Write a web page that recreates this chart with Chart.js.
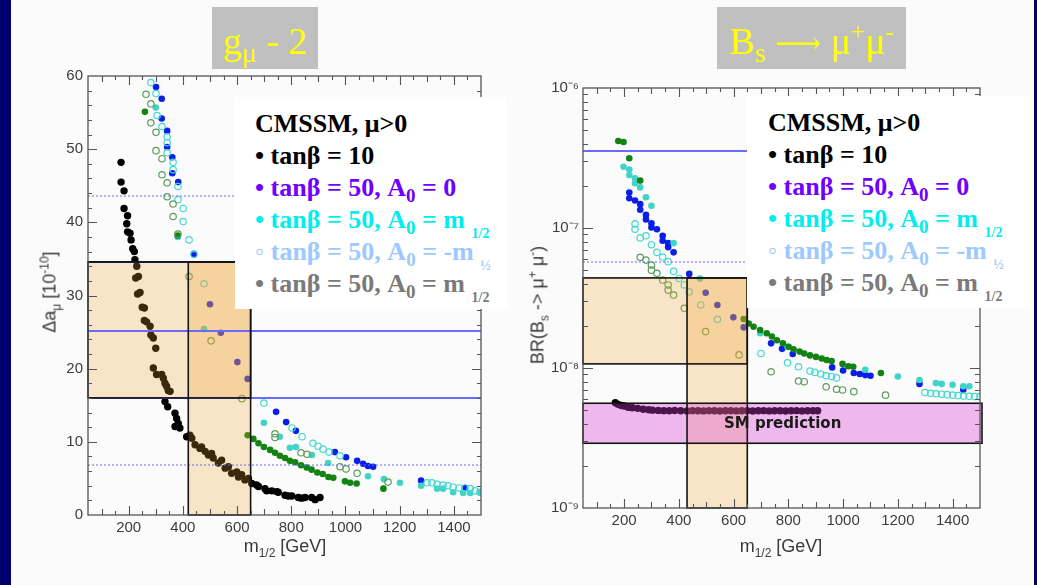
<!DOCTYPE html>
<html lang="en">
<head>
<meta charset="UTF-8">
<title>CMSSM: g-2 and Bs -> mu mu</title>
<script src="https://cdn.jsdelivr.net/npm/chart.js"></script>
<style>
  html { background: #fbfbfb; }
  body { margin: 0; width: 1037px; height: 585px; position: relative; overflow: hidden; background: #fbfbfb; font-family: "Liberation Sans", Arial, sans-serif; }
  .edge { position: absolute; top: 0; height: 585px; background: #00006c; }
  canvas { position: absolute; }
  .titlebox { position: absolute; top: 7px; height: 62px; background: #c0c0c0; color: #ffff00; font-family: "Liberation Serif", "Times New Roman", serif; font-size: 38px; line-height: 38px; text-align: center; white-space: nowrap; }
  .titlebox div { position: absolute; left: 0; right: 0; top: 15px; }
  .titlebox sub { font-size: 28px; line-height: 0; vertical-align: -8px; }
  .titlebox sup { font-size: 25px; line-height: 0; vertical-align: 14px; }
  .titlebox .arrow { font-family: "DejaVu Serif", serif; font-size: 32px; }
  .legend { position: absolute; height: 212px; background: #fff; box-sizing: border-box; padding: 11px 0 0 20px; font: bold 26px/32px "Liberation Serif", "Times New Roman", serif; white-space: nowrap; }
  .legend sub { font-size: 19px; line-height: 0; vertical-align: -6px; }
  .legend sub.h { font-size: 14px; vertical-align: -10px; }
  .xt { position: absolute; top: 536px; font-size: 18px; color: #3a3a3a; transform: translateX(-50%); white-space: nowrap; }
  .yt { position: absolute; font-size: 18px; color: #3a3a3a; transform: translate(-50%, -50%) rotate(-90deg); white-space: nowrap; }
  .xt sub, .yt sub { font-size: 12px; line-height: 0; }
  .yt sup { font-size: 12px; line-height: 0; }
  .sm { position: absolute; left: 724px; top: 414px; font: bold 15px/18px "DejaVu Sans", sans-serif; color: #1a1a1a; }
</style>
</head>
<body>
<div class="edge" style="left:0;width:11px"></div>
<div class="edge" style="left:1034px;width:3px"></div>

<canvas id="g2Chart" width="498" height="510" style="left:12px;top:60px"></canvas>
<canvas id="bsChart" width="517" height="510" style="left:515px;top:60px"></canvas>

<div class="titlebox" style="left:212px;width:106px"><div>g<sub>μ</sub> - 2</div></div>
<div class="titlebox" style="left:717px;width:189px"><div>B<sub>s</sub> <span class="arrow">⟶</span> μ<sup>+</sup>μ<sup>-</sup></div></div>

<div class="xt" style="left:285px">m<sub>1/2</sub> [GeV]</div>
<div class="xt" style="left:781px">m<sub>1/2</sub> [GeV]</div>
<div class="yt" style="left:50px;top:292px">Δa<sub>μ</sub> [10<sup>-10</sup>]</div>
<div class="yt" style="left:538px;top:305px">BR(B<sub>s</sub> -&gt; μ<sup>+</sup> μ<sup>-</sup>)</div>
<div class="sm">SM prediction</div>

<div class="legend" style="left:235px;top:97px;width:272px">
  <div style="color:#000">CMSSM, μ&gt;0</div>
  <div style="color:#000">• tanβ = 10</div>
  <div style="color:#7000ff">• tanβ = 50, A<sub>0</sub> = 0</div>
  <div style="color:#00eeee">• tanβ = 50, A<sub>0</sub> = m <sub class="h">1/2</sub></div>
  <div style="color:#9cc9ff">◦ tanβ = 50, A<sub>0</sub> = -m <sub class="h">½</sub></div>
  <div style="color:#7a7a7a">• tanβ = 50, A<sub>0</sub> = m <sub class="h">1/2</sub></div>
</div>
<div class="legend" style="left:747px;top:96px;width:284px;padding-left:21px">
  <div style="color:#000">CMSSM, μ&gt;0</div>
  <div style="color:#000">• tanβ = 10</div>
  <div style="color:#7000ff">• tanβ = 50, A<sub>0</sub> = 0</div>
  <div style="color:#00eeee">• tanβ = 50, A<sub>0</sub> = m <sub class="h">1/2</sub></div>
  <div style="color:#9cc9ff">◦ tanβ = 50, A<sub>0</sub> = -m <sub class="h">½</sub></div>
  <div style="color:#7a7a7a">• tanβ = 50, A<sub>0</sub> = m <sub class="h">1/2</sub></div>
</div>

<script>
// ---- g_mu - 2 panel: [m_1/2 (GeV), delta a_mu (1e-10)] ----
const g2Tb10 = [[172,48.2],[172,45.5],[183,44.3],[183,41.9],[196,40.9],[193,39.8],[196,38.7],[205,38.5],[209,37.6],[215,36.4],
  [221,36.0],[223,34.9],[230,34.0],[226,32.4],[236,32.6],[233,30.2],[242,30.4],[250,28.4],[258,28.3],[258,26.6],[266,26.4],
  [279,25.8],[282,24.6],[291,24.2],[300,22.8],[291,20.1],[303,19.2],[322,19.2],[328,18.7],[334,18.0],[340,17.6],[346,17.0],
  [353,16.9],[334,15.5],[344,14.8],[371,13.9],[377,13.2],[383,12.5],[371,12.1],[389,11.9],[414,10.7],[426,10.9],[433,10.5],
  [445,9.6],[463,9.1],[469,9.3],[482,8.7],[494,8.2],[506,8.4],[512,7.8],[531,7.1],[543,7.5],[556,6.4],[568,6.6],[580,5.7],
  [599,5.9],[605,5.2],[617,5.5],[629,4.8],[642,5.0],[654,4.3],[672,4.1],[679,3.9],[703,3.6],[709,3.3],[728,3.3],[746,3.2],
  [752,3.1],[777,2.7],[789,2.6],[802,2.6],[826,2.4],[838,2.3],[851,2.4],[875,2.4],[888,2.1],[906,2.4]];
const g2Tb50A0 = [[301,58.5],[322,56.9],[322,54.2],[342,52.5],[342,50.3],[361,48.9],[361,46.7],[383,45.5],[441,35.7],[500,28.8],
  [540,24.9],[601,20.9],[639,18.6],[744,14.1],[781,12.7],[817,11.5],[961,8.6],[1002,7.9],[1043,7.4],[1065,7.0],[1083,6.7],
  [1102,6.6],[1279,4.7],[1441,3.7]];
const g2Tb50Ap = [[300,55.7],[381,38.0],[478,25.4],[699,12.6],[758,10.7],[795,9.2],[817,9.3],[876,8.2],[936,7.1],[1083,5.3],
  [1142,4.9],[1201,4.4],[1279,4.0],[1338,3.6],[1360,3.6],[1397,3.1],[1434,3.0],[1460,3.0],[1496,3.1]];
const g2Tb50Am = [[282,59.1],[301,57.6],[305,54.6],[323,53.1],[342,51.7],[342,50.9],[342,49.5],[364,48.2],[364,47.2],[382,44.9],
  [382,43.1],[401,41.9],[401,40.1],[423,37.6],[441,35.6],[478,31.6],[699,15.3],[803,11.9],[840,10.7],[880,9.8],[899,9.4],
  [917,9.0],[939,8.6],[980,8.1],[1301,4.4],[1319,4.4],[1338,4.2],[1360,4.1],[1378,4.0],[1397,3.8],[1419,3.7],[1441,3.7],
  [1460,3.6],[1478,3.3],[1496,3.1]];
const g2GreenFull = [[260,55.1],[381,38.2],[639,10.9],[660,10.4],[679,9.8],[699,9.3],[722,8.9],[740,8.5],[758,8.1],[777,7.8],
  [795,7.4],[814,7.2],[836,6.8],[857,6.5],[875,6.2],[896,5.8],[916,5.6],[937,5.2],[955,5.1],[998,4.6],[1017,4.4],[1041,4.3],
  [1140,3.6]];
const g2GreenOpen = [[264,57.5],[282,56.2],[282,53.6],[301,52.3],[301,49.8],[323,48.7],[323,46.5],[342,45.4],[342,43.5],[364,42.5],
  [364,40.8],[382,38.4],[423,32.6],[504,23.8],[618,15.9],[740,11.1],[740,10.6],[836,8.5],[858,8.3],[980,6.6],[1002,6.3],
  [1043,5.7],[1157,4.5]];
const g2XLabels = [200, 400, 600, 800, 1000, 1200, 1400];
const g2YLabels = [0, 10, 20, 30, 40, 50, 60];
const g2Measured = 25.2, g2Band = [16.0, 34.6], g2Outer = [6.8, 43.6];
const g2MassBand = [420, 650];

// ---- Bs -> mu mu panel: [m_1/2 (GeV), BR] ----
const bsTb10 = [[168,5.65e-9],[178,5.5e-9],[190,5.4e-9],[201,5.35e-9],[215,5.25e-9],[230,5.2e-9],[250,5.15e-9],[270,5.08e-9],
  [290,5.03e-9],[304,5.0e-9],[325,4.98e-9],[345,4.96e-9],[365,4.95e-9],[385,4.97e-9],[407,4.95e-9],[430,4.93e-9],[450,4.96e-9],
  [470,4.95e-9],[490,4.94e-9],[510,4.96e-9],[530,4.95e-9],[550,4.93e-9],[570,4.95e-9],[590,4.96e-9],[610,4.94e-9],[630,4.95e-9],
  [650,4.95e-9],[670,4.93e-9],[690,4.95e-9],[710,4.96e-9],[730,4.94e-9],[750,4.95e-9],[770,4.95e-9],[790,4.93e-9],[810,4.95e-9],
  [830,4.96e-9],[850,4.94e-9],[870,4.95e-9],[890,4.95e-9],[907,4.95e-9]];
const bsTb50A0 = [[219,1.79e-7],[219,1.63e-7],[240,1.57e-7],[259,1.48e-7],[259,1.35e-7],[280,1.24e-7],[280,1.15e-7],[300,1.08e-7],
  [300,1.01e-7],[320,9.8e-8],[341,8.8e-8],[341,8.1e-8],[361,7.8e-8],[361,7.3e-8],[381,6.7e-8],[438,4.7e-8],[498,3.45e-8],
  [541,2.82e-8],[599,2.3e-8],[637,1.95e-8],[737,1.5e-8],[777,1.37e-8],[816,1.26e-8],[960,1.01e-8],[1000,9.6e-9],[1039,9.2e-9],
  [1061,9.06e-9],[1081,8.9e-9],[1100,8.8e-9],[1279,7.7e-9],[1439,7.0e-9]];
const bsTb50Ap = [[198,2.74e-7],[219,2.62e-7],[219,2.39e-7],[240,2.26e-7],[240,2.09e-7],[259,1.95e-7],[280,1.66e-7],[300,1.44e-7],
  [381,7.8e-8],[477,4.36e-8],[697,1.77e-8],[797,1.42e-8],[1081,9.7e-9],[1200,8.7e-9],[1279,8.2e-9],[1339,7.8e-9],[1360,7.7e-9],
  [1400,7.6e-9],[1439,7.4e-9],[1461,7.4e-9]];
const bsTb50Am = [[240,1.07e-7],[240,9.8e-8],[259,8.5e-8],[280,8.8e-8],[300,7.6e-8],[320,6.7e-8],[341,6.2e-8],[361,5.75e-8],
  [381,4.9e-8],[401,4.36e-8],[420,3.92e-8],[438,3.5e-8],[480,2.82e-8],[541,2.23e-8],[700,1.27e-8],[797,1.09e-8],[837,1.02e-8],
  [879,9.5e-9],[897,9.3e-9],[918,9.06e-9],[938,8.8e-9],[958,8.7e-9],[976,8.5e-9],[1299,6.67e-9],[1320,6.6e-9],[1340,6.55e-9],
  [1360,6.5e-9],[1380,6.45e-9],[1400,6.4e-9],[1420,6.35e-9],[1440,6.3e-9],[1460,6.28e-9],[1480,6.25e-9],[1500,6.24e-9]];
const bsGreenFull = [[179,4.18e-7],[198,4.11e-7],[219,3.15e-7],[259,2.18e-7],[637,2.24e-8],[655,2.08e-8],[673,1.97e-8],[697,1.87e-8],
  [721,1.77e-8],[740,1.68e-8],[758,1.58e-8],[780,1.5e-8],[801,1.42e-8],[819,1.36e-8],[841,1.31e-8],[858,1.27e-8],[879,1.23e-8],
  [901,1.2e-8],[922,1.17e-8],[940,1.14e-8],[958,1.12e-8],[998,1.07e-8],[1019,1.03e-8],[1037,1.02e-8],[1138,9.2e-9]];
const bsGreenOpen = [[259,6.18e-8],[280,5.9e-8],[300,5.44e-8],[300,5.0e-8],[320,4.75e-8],[341,4.25e-8],[361,3.92e-8],[361,3.6e-8],
  [381,3.32e-8],[420,2.67e-8],[498,1.82e-8],[620,1.24e-8],[737,9.4e-9],[837,8.07e-9],[858,7.98e-9],[938,7.34e-9],[976,7.05e-9],
  [998,6.97e-9],[1039,6.78e-9],[1155,6.4e-9]];
const bsXLabels = [200, 400, 600, 800, 1000, 1200, 1400];
const bsYLabels = [1e-9, 1e-8, 1e-7, 1e-6];
const bsLimit = 3.55e-7, bsDotted = 5.7e-8, bsBand = [1.07e-8, 4.4e-8], bsSM = [2.9e-9, 5.6e-9];
const bsMassBand = [430, 650];

// marker styles
const markers = {
  black:     { r: 3.7, fill: '#000000', line: '#000000', w: 0 },
  blue:      { r: 3.3, fill: '#0a1ee8', line: '#0a1ee8', w: 0 },
  cyan:      { r: 3.3, fill: '#3fd4c8', line: '#3fd4c8', w: 0 },
  cyanOpen:  { r: 3.2, fill: 'rgba(0,0,0,0)', line: '#45d8d2', w: 1.2 },
  green:     { r: 3.3, fill: '#128212', line: '#128212', w: 0 },
  greenOpen: { r: 3.2, fill: 'rgba(0,0,0,0)', line: '#5c9c5c', w: 1.2 }
};

function series(points, kind) {
  const m = markers[kind];
  return {
    data: points.map(p => ({ x: p[0], y: p[1] })),
    showLine: false,
    pointRadius: m.r,
    pointBackgroundColor: m.fill,
    pointBorderColor: m.line,
    pointBorderWidth: m.w
  };
}

const superDigits = { '-': '⁻', '0': '⁰', '1': '¹', '2': '²', '3': '³', '4': '⁴', '5': '⁵', '6': '⁶', '7': '⁷', '8': '⁸', '9': '⁹' };
const toSup = n => String(n).split('').map(c => superDigits[c]).join('');

// bands, reference lines and ROOT-style frame with inward ticks
const framePlugin = {
  id: 'frame',
  afterDatasetsDraw(chart, args, o) {
    const { ctx, chartArea: a } = chart;
    const sx = chart.scales.x, sy = chart.scales.y;
    const px = v => sx.getPixelForValue(v), py = v => sy.getPixelForValue(v);
    ctx.save();

    o.bands.forEach(b => {
      const l = px(b.x[0]), r = px(b.x[1]) + (b.extend || 0);
      const t = py(b.y[1]), btm = py(b.y[0]);
      ctx.fillStyle = b.fill;
      ctx.fillRect(l, t, r - l, btm - t);
    });

    o.lines.forEach(ln => {
      const yy = Math.round(py(ln.y));
      ctx.beginPath();
      ctx.strokeStyle = ln.color;
      ctx.lineWidth = ln.width;
      ctx.setLineDash(ln.dash || []);
      ctx.moveTo(a.left, yy);
      ctx.lineTo(a.right, yy);
      ctx.stroke();
    });
    ctx.setLineDash([]);

    ctx.strokeStyle = '#141414';
    ctx.lineWidth = 1.6;
    o.bands.forEach(b => {
      const l = px(b.x[0]), r = px(b.x[1]) + (b.extend || 0);
      const t = py(b.y[1]), btm = py(b.y[0]);
      ctx.strokeRect(l, t, r - l, btm - t);
    });

    ctx.strokeStyle = '#555';
    ctx.lineWidth = 1.3;
    ctx.strokeRect(a.left, a.top, a.width, a.height);
    ctx.beginPath();
    o.xTicks.forEach(t => {
      const X = Math.round(px(t.v)) + 0.5;
      ctx.moveTo(X, a.bottom); ctx.lineTo(X, a.bottom - t.len);
      ctx.moveTo(X, a.top); ctx.lineTo(X, a.top + t.len);
    });
    o.yTicks.forEach(t => {
      const Y = Math.round(py(t.v)) + 0.5;
      ctx.moveTo(a.left, Y); ctx.lineTo(a.left + t.len, Y);
      ctx.moveTo(a.right, Y); ctx.lineTo(a.right - t.len, Y);
    });
    ctx.lineWidth = 1.1;
    ctx.stroke();
    ctx.restore();
  }
};

const tickFont = { family: '"Liberation Sans", Arial, sans-serif', size: 15 };
const plainNumber = v => String(v);

// tick marks every 50 GeV on x
const massTicks = [];
for (let v = 100; v < 1500; v += 50) massTicks.push({ v: v, len: v % 200 === 0 ? 9 : (v % 100 === 0 ? 6 : 4) });

const g2Ticks = [];
for (let v = 2; v < 60; v += 2) g2Ticks.push({ v: v, len: v % 10 === 0 ? 9 : 4 });

const bsTicks = [];
for (let d = -9; d <= -7; d++) {
  for (let k = 1; k <= 9; k++) {
    if (d === -9 && k === 1) continue;
    bsTicks.push({ v: k * Math.pow(10, d), len: k === 1 ? 10 : 5 });
  }
}

const orange = 'rgba(240,160,40,0.25)';
const refBlue = '#6a6aff';

new Chart(document.getElementById('g2Chart'), {
  type: 'scatter',
  data: {
    datasets: [
      series(g2GreenOpen, 'greenOpen'),
      series(g2Tb50Am, 'cyanOpen'),
      series(g2GreenFull, 'green'),
      series(g2Tb50Ap, 'cyan'),
      series(g2Tb50A0, 'blue'),
      series(g2Tb10, 'black')
    ]
  },
  options: {
    responsive: false,
    animation: false,
    devicePixelRatio: 1,
    layout: { padding: { left: 0, right: 29, top: 16, bottom: 15 } },
    plugins: {
      legend: { display: false },
      tooltip: { enabled: false },
      frame: {
        bands: [
          { x: [50, g2MassBand[1]], y: g2Band, fill: orange },
          { x: g2MassBand, y: [0, g2Band[1]], fill: orange }
        ],
        lines: [
          { y: g2Outer[1], color: refBlue, width: 1, dash: [2, 2] },
          { y: g2Outer[0], color: refBlue, width: 1, dash: [2, 2] },
          { y: g2Measured, color: refBlue, width: 2 },
          { y: g2Band[0], color: refBlue, width: 2 },
          { y: g2Band[1], color: '#2020c0', width: 2 }
        ],
        xTicks: massTicks,
        yTicks: g2Ticks
      }
    },
    scales: {
      x: {
        type: 'linear', min: 50, max: 1500,
        grid: { display: false, drawTicks: false },
        border: { display: false },
        afterBuildTicks: s => { s.ticks = g2XLabels.map(v => ({ value: v })); },
        afterFit: s => { s.height = 40; },
        ticks: { padding: 4, color: '#3c3c3c', font: tickFont, maxRotation: 0, autoSkip: false, callback: plainNumber }
      },
      y: {
        type: 'linear', min: 0, max: 60,
        grid: { display: false, drawTicks: false },
        border: { display: false },
        afterBuildTicks: s => { s.ticks = g2YLabels.map(v => ({ value: v })); },
        afterFit: s => { s.width = 76; },
        ticks: { padding: 5, color: '#3c3c3c', font: tickFont, autoSkip: false, callback: plainNumber }
      }
    }
  },
  plugins: [framePlugin]
});

new Chart(document.getElementById('bsChart'), {
  type: 'scatter',
  data: {
    datasets: [
      series(bsGreenOpen, 'greenOpen'),
      series(bsTb50Am, 'cyanOpen'),
      series(bsGreenFull, 'green'),
      series(bsTb50Ap, 'cyan'),
      series(bsTb50A0, 'blue'),
      series(bsTb10, 'black')
    ]
  },
  options: {
    responsive: false,
    animation: false,
    devicePixelRatio: 1,
    layout: { padding: { left: 0, right: 52, top: 28, bottom: 22 } },
    plugins: {
      legend: { display: false },
      tooltip: { enabled: false },
      frame: {
        bands: [
          { x: [50, bsMassBand[1]], y: bsBand, fill: orange },
          { x: bsMassBand, y: [1e-9, bsBand[1]], fill: orange },
          { x: [50, 1500], y: bsSM, fill: 'rgba(215,60,215,0.35)', extend: 2 }
        ],
        lines: [
          { y: bsLimit, color: refBlue, width: 2 },
          { y: bsDotted, color: refBlue, width: 1, dash: [2, 2] }
        ],
        xTicks: massTicks,
        yTicks: bsTicks
      }
    },
    scales: {
      x: {
        type: 'linear', min: 50, max: 1500,
        grid: { display: false, drawTicks: false },
        border: { display: false },
        afterBuildTicks: s => { s.ticks = bsXLabels.map(v => ({ value: v })); },
        afterFit: s => { s.height = 40; },
        ticks: { padding: 4, color: '#3c3c3c', font: tickFont, maxRotation: 0, autoSkip: false, callback: plainNumber }
      },
      y: {
        type: 'logarithmic', min: 1e-9, max: 1e-6,
        grid: { display: false, drawTicks: false },
        border: { display: false },
        afterBuildTicks: s => { s.ticks = bsYLabels.map(v => ({ value: v })); },
        afterFit: s => { s.width = 68; },
        ticks: { padding: 4, color: '#3c3c3c', font: tickFont, autoSkip: false,
                 callback: v => '10' + toSup(Math.round(Math.log10(v))) }
      }
    }
  },
  plugins: [framePlugin]
});
</script>
</body>
</html>
